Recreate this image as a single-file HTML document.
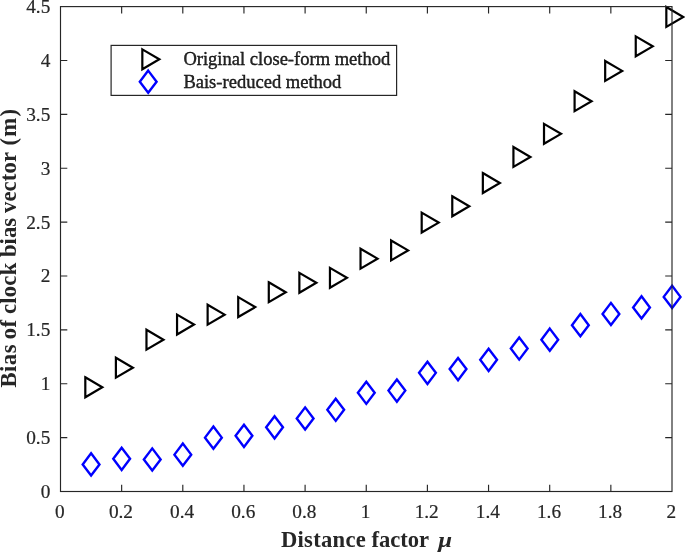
<!DOCTYPE html>
<html><head><meta charset="utf-8"><title>Bias of clock bias vector</title>
<style>html,body{margin:0;padding:0;background:#fff;}svg{display:block;}text{font-family:"Liberation Serif","Times New Roman",serif;fill:#262626;}</style></head><body>
<svg width="685" height="552" viewBox="0 0 685 552">
<rect x="0" y="0" width="685" height="552" fill="#fff"/>
<g fill="none" stroke="#000" stroke-width="2.2" stroke-linejoin="miter" stroke-miterlimit="10">
<path d="M85.31 377.32L102.31 387.27L85.31 397.22Z"/>
<path d="M115.89 357.73L132.89 367.68L115.89 377.63Z"/>
<path d="M146.47 329.75L163.47 339.7L146.47 349.65Z"/>
<path d="M177.05 314.58L194.05 324.53L177.05 334.48Z"/>
<path d="M207.63 304.68L224.63 314.63L207.63 324.58Z"/>
<path d="M238.21 297.15L255.21 307.1L238.21 317.05Z"/>
<path d="M268.79 282.3L285.79 292.25L268.79 302.2Z"/>
<path d="M299.37 272.83L316.37 282.78L299.37 292.73Z"/>
<path d="M329.95 267.88L346.95 277.83L329.95 287.78Z"/>
<path d="M360.53 248.72L377.53 258.67L360.53 268.62Z"/>
<path d="M391.11 240.44L408.11 250.39L391.11 260.34Z"/>
<path d="M421.69 212.67L438.69 222.62L421.69 232.57Z"/>
<path d="M452.27 196.32L469.27 206.27L452.27 216.22Z"/>
<path d="M482.85 173.07L499.85 183.02L482.85 192.97Z"/>
<path d="M513.43 147.03L530.43 156.98L513.43 166.93Z"/>
<path d="M544.01 123.89L561.01 133.84L544.01 143.79Z"/>
<path d="M574.59 91.29L591.59 101.24L574.59 111.19Z"/>
<path d="M605.17 60.94L622.17 70.89L605.17 80.84Z"/>
<path d="M635.75 36.41L652.75 46.36L635.75 56.31Z"/>
<path d="M666.33 7.03L683.33 16.98L666.33 26.93Z"/>
</g>
<g fill="none" stroke="#0000ff" stroke-width="2.4" stroke-linejoin="miter" stroke-miterlimit="10">
<path d="M91.08 453.33L99.48 464.43L91.08 475.53L82.68 464.43Z"/>
<path d="M121.66 447.74L130.06 458.84L121.66 469.94L113.26 458.84Z"/>
<path d="M152.24 448.38L160.64 459.48L152.24 470.58L143.84 459.48Z"/>
<path d="M182.82 443.54L191.22 454.64L182.82 465.74L174.42 454.64Z"/>
<path d="M213.4 426.54L221.8 437.64L213.4 448.74L205 437.64Z"/>
<path d="M243.98 424.71L252.38 435.81L243.98 446.91L235.58 435.81Z"/>
<path d="M274.56 416.21L282.96 427.31L274.56 438.41L266.16 427.31Z"/>
<path d="M305.14 407.38L313.54 418.48L305.14 429.58L296.74 418.48Z"/>
<path d="M335.72 398.67L344.12 409.77L335.72 420.87L327.32 409.77Z"/>
<path d="M366.3 381.66L374.7 392.76L366.3 403.86L357.9 392.76Z"/>
<path d="M396.88 379.51L405.28 390.61L396.88 401.71L388.48 390.61Z"/>
<path d="M427.46 361.75L435.86 372.85L427.46 383.95L419.06 372.85Z"/>
<path d="M458.04 357.99L466.44 369.09L458.04 380.19L449.64 369.09Z"/>
<path d="M488.62 348.73L497.02 359.83L488.62 370.93L480.22 359.83Z"/>
<path d="M519.2 337.43L527.6 348.53L519.2 359.63L510.8 348.53Z"/>
<path d="M549.78 328.61L558.18 339.71L549.78 350.81L541.38 339.71Z"/>
<path d="M580.36 314.08L588.76 325.18L580.36 336.28L571.96 325.18Z"/>
<path d="M610.94 302.89L619.34 313.99L610.94 325.09L602.54 313.99Z"/>
<path d="M641.52 296.33L649.92 307.43L641.52 318.53L633.12 307.43Z"/>
<path d="M672.1 285.78L680.5 296.88L672.1 307.98L663.7 296.88Z"/>
</g>
<g fill="none" stroke="#262626" stroke-width="1.15">
<rect x="60.5" y="6.6" width="611.5" height="484.9"/>
<path d="M121.65 491.5v-6.8M121.65 6.6v6.8M182.8 491.5v-6.8M182.8 6.6v6.8M243.95 491.5v-6.8M243.95 6.6v6.8M305.1 491.5v-6.8M305.1 6.6v6.8M366.25 491.5v-6.8M366.25 6.6v6.8M427.4 491.5v-6.8M427.4 6.6v6.8M488.55 491.5v-6.8M488.55 6.6v6.8M549.7 491.5v-6.8M549.7 6.6v6.8M610.85 491.5v-6.8M610.85 6.6v6.8M60.5 437.62h6.8M672 437.62h-6.8M60.5 383.74h6.8M672 383.74h-6.8M60.5 329.87h6.8M672 329.87h-6.8M60.5 275.99h6.8M672 275.99h-6.8M60.5 222.11h6.8M672 222.11h-6.8M60.5 168.23h6.8M672 168.23h-6.8M60.5 114.36h6.8M672 114.36h-6.8M60.5 60.48h6.8M672 60.48h-6.8"/>
</g>
<g font-size="19.3" text-anchor="middle" stroke="#262626" stroke-width="0.2">
<text x="59.8" y="517.5">0</text>
<text x="120.95" y="517.5">0.2</text>
<text x="182.1" y="517.5">0.4</text>
<text x="243.25" y="517.5">0.6</text>
<text x="304.4" y="517.5">0.8</text>
<text x="365.55" y="517.5">1</text>
<text x="426.7" y="517.5">1.2</text>
<text x="487.85" y="517.5">1.4</text>
<text x="549" y="517.5">1.6</text>
<text x="610.15" y="517.5">1.8</text>
<text x="671.3" y="517.5">2</text>
</g>
<g font-size="19.3" text-anchor="end" stroke="#262626" stroke-width="0.2">
<text x="50.3" y="498">0</text>
<text x="50.3" y="444.12">0.5</text>
<text x="50.3" y="390.24">1</text>
<text x="50.3" y="336.37">1.5</text>
<text x="50.3" y="282.49">2</text>
<text x="50.3" y="228.61">2.5</text>
<text x="50.3" y="174.73">3</text>
<text x="50.3" y="120.86">3.5</text>
<text x="50.3" y="66.98">4</text>
<text x="50.3" y="13.1">4.5</text>
</g>
<g font-size="22.6" font-weight="bold"><text x="280.9" y="546.8" letter-spacing="0.3">Distance</text><text x="371.4" y="546.8">factor</text><text transform="translate(438.2 546.8) scale(1.1 0.93)" font-style="italic">μ</text></g>
<g font-size="22.7" font-weight="bold"><text transform="translate(15.6 387.5) rotate(-90)" letter-spacing="0.45">Bias</text><text transform="translate(15.6 339.3) rotate(-90)" letter-spacing="0.4">of</text><text transform="translate(15.6 314.1) rotate(-90)" letter-spacing="0.25">clock</text><text transform="translate(15.6 257) rotate(-90)" letter-spacing="0">bias</text><text transform="translate(15.6 213) rotate(-90)" letter-spacing="0.1">vector</text><text transform="translate(15.6 145.4) rotate(-90)" letter-spacing="1.2">(m)</text></g>
<rect x="111.1" y="45.4" width="285.5" height="50.0" fill="#fff" stroke="#262626" stroke-width="1.2"/>
<g fill="none" stroke="#000" stroke-width="2.2" stroke-miterlimit="10"><path d="M142.33 49.35L159.33 59.3L142.33 69.25Z"/></g>
<g fill="none" stroke="#0000ff" stroke-width="2.4" stroke-miterlimit="10"><path d="M148.2 70.6L156.6 81.7L148.2 92.8L139.8 81.7Z"/></g>
<text x="183.4" y="65.3" font-size="18.55" fill="#000" stroke="#000" stroke-width="0.35">Original close-form method</text>
<text x="183.4" y="87.7" font-size="18.55" fill="#000" stroke="#000" stroke-width="0.35">Bais-reduced method</text>
</svg></body></html>
